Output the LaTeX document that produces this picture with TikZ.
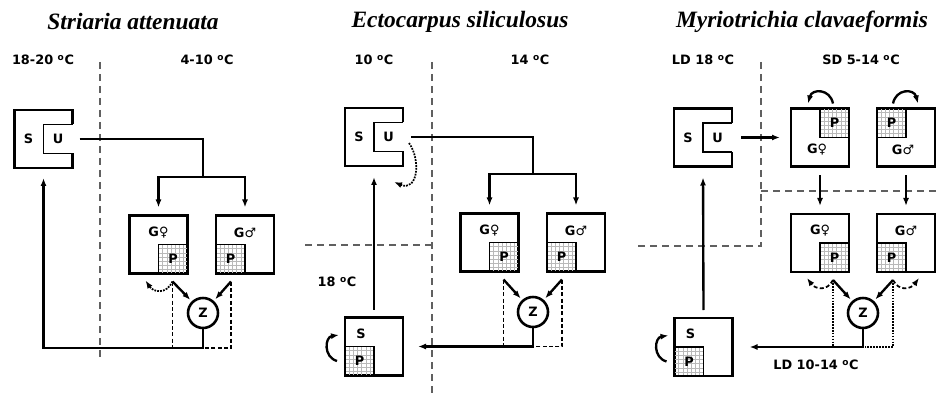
\documentclass[tikz,border=0pt]{standalone}
\usepackage{fontspec}
\newfontfamily\labfont{DejaVu Sans}
\newfontfamily\titlefont{Liberation Serif}
\usetikzlibrary{arrows.meta,calc}
\newcommand{\dgc}{\textsuperscript{o}C}
\tikzset{
  cell/.style={draw, line width=2.2pt, minimum size=17.4mm, inner sep=0pt, outer sep=0pt},
  cellspace/.style={minimum size=17.4mm, inner sep=0pt, outer sep=0pt},
  boxline/.style={line width=2.2pt},
  inner/.style={line width=1.2pt},
  gridline/.style={gray!55, line width=0.35pt},
  lab/.style={font=\labfont\bfseries\fontsize{11}{13}\selectfont, inner sep=1pt},
  title/.style={font=\titlefont\bfseries\itshape\fontsize{20}{24}\selectfont},
  zcirc/.style={draw, circle, line width=2.2pt, minimum size=9mm, inner sep=0pt,
    font=\labfont\bfseries\fontsize{11}{13}\selectfont},
  flow/.style={line width=2pt},
  zlink/.style={line width=1.5pt, dash pattern=on 1.2mm off 0.7mm},
  backarrow/.style={line width=1.5pt, densely dotted},
  divider/.style={gray!75!black, line width=1.4pt, dash pattern=on 2mm off 1.6mm}
}
% cell with the U notch on its right side
\newcommand{\sucell}[2]{%
  \node[cellspace] (#1) at #2 {};
  \draw[boxline] ($(#1.east)+(0,-14.5)$) -- (#1.north east) -- (#1.north west)
    -- (#1.south west) -- (#1.south east) -- ($(#1.east)+(0,14.5)$);
  \draw[inner] ($(#1.east)+(0,-14.5)$) -- ($(#1.center)+(0,-14.5)$)
    -- ($(#1.center)+(0,14.5)$) -- ($(#1.east)+(0,14.5)$);
  \node[lab] (#1-s) at ($(#1.west)+(14,0)$) {S};
  \node[lab] (#1-u) at ($(#1.center)+(14.5,0)$) {U};}
% gridded P corner: name, corner, x direction, y direction
\newcommand{\pcell}[4]{%
  \begin{scope}[shift={#2}, xscale=#3, yscale=#4]
    \foreach \k in {1,...,6} {
      \draw[gridline] (\k*4.14,0) -- (\k*4.14,29);
      \draw[gridline] (0,\k*4.14) -- (29,\k*4.14);
    }
    \draw[inner] (0,0) rectangle (29,29);
    \node[lab] (#1) at (14.5,14.5) {P};
  \end{scope}}
\begin{document}
\begin{tikzpicture}[x=0.3mm, y=-0.3mm, >={Latex[length=2.4mm,width=1.8mm]}]
\useasboundingbox (0,0) rectangle (937,394);

% temperature borders
\draw[divider] (100,62) -- (100,360);
\draw[divider] (432,62) -- (432,394);
\draw[divider] (305,245) -- (432,245);
\draw[divider] (761,62) -- (761,246) -- (635,246);
\draw[divider] (761,191) -- (937,191);

% Striaria attenuata
\node[title] (t1) at (133,22) {Striaria attenuata};
\node[lab] (c1a) at (43,60) {18-20 \dgc};
\node[lab] (c1b) at (207,60) {4-10 \dgc};
\sucell{su1}{(43.5,139)}
\node[cell] (gf1) at (158.5,244.5) {};
\node[cell] (gm1) at (245,244.5) {};
\node[lab] (gf1-g) at ($(gf1.north)+(0,17)$) {G♀};
\node[lab] (gm1-g) at ($(gm1.north)+(0,17)$) {G♂};
\pcell{p-gf1}{(gf1.south east)}{-1}{-1}
\pcell{p-gm1}{(gm1.south west)}{1}{-1}
\node[zcirc] (z1) at (203,313) {Z};
\coordinate (b1) at (203,177);
\draw[flow] ([xshift=2.1mm]su1.east) -| (b1);
\draw[flow,->,shorten >=2.4mm] (b1) -| (gf1.north);
\draw[flow,->,shorten >=2.4mm] (b1) -| (gm1.north);
\coordinate (r1) at ($(z1.south)+(0,19)$);
\draw[flow,->,shorten >=3mm] (z1.south) -- (r1) -| (su1.south);
\coordinate (zf1) at ($(gf1.south east)+(-15,8)$);
\coordinate (zm1) at ($(gm1.south west)+(15,8)$);
\draw[flow,->,shorten >=0.6mm] (zf1) -- (z1);
\draw[flow,->,shorten >=0.6mm] (zm1) -- (z1);
\draw[zlink] (zf1) -- (zf1 |- r1);
\draw[zlink] (zm1) |- (r1);
\coordinate (tf1) at ($(zf1)+(-27,-1)$);
\draw[backarrow,->] (zf1) .. controls +(-6,13) and +(8,12) .. (tf1);

% Ectocarpus siliculosus
\node[title] (t2) at (460,22) {Ectocarpus siliculosus};
\node[lab] (c2a) at (374,60) {10 \dgc};
\node[lab] (c2b) at (530,60) {14 \dgc};
\node[lab] (c2c) at (337,282) {18 \dgc};
\sucell{su2}{(374,137)}
\node[cell] (gf2) at (489.5,242.5) {};
\node[cell] (gm2) at (576,242.5) {};
\node[cell] (sp2) at (374,346.5) {};
\node[lab] (gf2-g) at ($(gf2.north)+(0,17)$) {G♀};
\node[lab] (gm2-g) at ($(gm2.north)+(0,17)$) {G♂};
\node[lab] (sp2-s) at ($(sp2.north west)+(16,16)$) {S};
\pcell{p-gf2}{(gf2.south east)}{-1}{-1}
\pcell{p-gm2}{(gm2.south west)}{1}{-1}
\pcell{p-sp2}{(sp2.south west)}{1}{-1}
\node[zcirc] (z2) at (533,312) {Z};
\coordinate (b2) at (533,174);
\draw[flow] ([xshift=2.4mm]su2.east) -| (b2);
\draw[flow,->,shorten >=2.4mm] (b2) -| (gf2.north);
\draw[flow,->,shorten >=2.4mm] (b2) -| (gm2.north);
\draw[flow,->,shorten <=2.4mm,shorten >=3.3mm] (sp2.north) -- (su2.south);
\coordinate (r2) at (z2.south |- sp2.east);
\draw[flow,->,shorten >=4.5mm] (z2.south) -- (r2) -- (sp2.east);
\coordinate (zf2) at ($(gf2.south east)+(-15,8)$);
\coordinate (zm2) at ($(gm2.south west)+(15,8)$);
\draw[flow,->,shorten >=0.6mm] (zf2) -- (z2);
\draw[flow,->,shorten >=0.6mm] (zm2) -- (z2);
\draw[zlink] (zf2) -- (zf2 |- r2);
\draw[zlink] (zm2) |- (r2);
\coordinate (q2a) at ($(su2.east)+(6,6)$);
\coordinate (q2b) at ($(su2.south east)+(-9,16)$);
\draw[backarrow,->] (q2a) .. controls +(12,17) and +(24,10) .. (q2b);
\draw[flow,->] ($(sp2.west)+(-8,14.5)$) .. controls +(-14,-4) and +(-14,2) .. ($(sp2.west)+(-6,-11.5)$);

% Myriotrichia clavaeformis
\node[title] (t3) at (802,22) {Myriotrichia clavaeformis};
\node[lab] (c3a) at (703,60) {LD 18 \dgc};
\node[lab] (c3b) at (861,60) {SD 5-14 \dgc};
\node[lab] (c3c) at (816,365) {LD 10-14 \dgc};
\sucell{su3}{(703,137.5)}
\node[cell] (gf3a) at (820,137.5) {};
\node[cell] (gm3a) at (906,137.5) {};
\node[cell] (gf3) at (820,243) {};
\node[cell] (gm3) at (906,243) {};
\node[cell] (sp3) at (703.5,347) {};
\node[lab] (gf3a-g) at ($(gf3a.south)+(-3,-17)$) {G♀};
\node[lab] (gm3a-g) at ($(gm3a.south)+(-3,-17)$) {G♂};
\node[lab] (gf3-g) at ($(gf3.north)+(0,17)$) {G♀};
\node[lab] (gm3-g) at ($(gm3.north)+(0,17)$) {G♂};
\node[lab] (sp3-s) at ($(sp3.north west)+(16,16)$) {S};
\pcell{p-gf3a}{(gf3a.north east)}{-1}{1}
\pcell{p-gm3a}{(gm3a.north west)}{1}{1}
\pcell{p-gf3}{(gf3.south east)}{-1}{-1}
\pcell{p-gm3}{(gm3.south west)}{1}{-1}
\pcell{p-sp3}{(sp3.south west)}{1}{-1}
\node[zcirc] (z3) at (863,313) {Z};
\draw[flow,->,shorten <=2.7mm,shorten >=3.3mm] (su3.east) -- (gf3a.west);
\draw[flow,->] ($(gf3a.north)+(13,-5)$) .. controls +(-3,-15) and +(4,-15) .. ($(gf3a.north)+(-12,-5)$);
\draw[flow,->] ($(gm3a.north)+(-13,-5)$) .. controls +(3,-15) and +(-4,-15) .. ($(gm3a.north)+(12,-5)$);
\draw[flow,->,shorten <=2.7mm,shorten >=2.4mm] (gf3a.south) -- (gf3.north);
\draw[flow,->,shorten <=2.7mm,shorten >=2.4mm] (gm3a.south) -- (gm3.north);
\draw[flow,->,shorten <=2.4mm,shorten >=3.3mm] (sp3.north) -- (su3.south);
\coordinate (r3) at (z3.south |- sp3.east);
\draw[flow,->,shorten >=5.1mm] (z3.south) -- (r3) -- (sp3.east);
\coordinate (zf3) at ($(gf3.south east)+(-16,8)$);
\coordinate (zm3) at ($(gm3.south west)+(16,8)$);
\draw[flow,->,shorten >=0.6mm] (zf3) -- (z3);
\draw[flow,->,shorten >=0.6mm] (zm3) -- (z3);
\draw[backarrow] (zf3) -- (zf3 |- r3);
\draw[backarrow] (zm3) |- (r3);
\coordinate (tf3) at ($(zf3)+(-26,-2)$);
\coordinate (tm3) at ($(zm3)+(26,-2)$);
\draw[zlink,->] (zf3) .. controls +(-6,12) and +(8,11) .. (tf3);
\draw[zlink,->] (zm3) .. controls +(6,12) and +(-8,11) .. (tm3);
\draw[flow,->] ($(sp3.west)+(-8,14.5)$) .. controls +(-14,-4) and +(-14,2) .. ($(sp3.west)+(-6,-11.5)$);
\end{tikzpicture}
\end{document}
